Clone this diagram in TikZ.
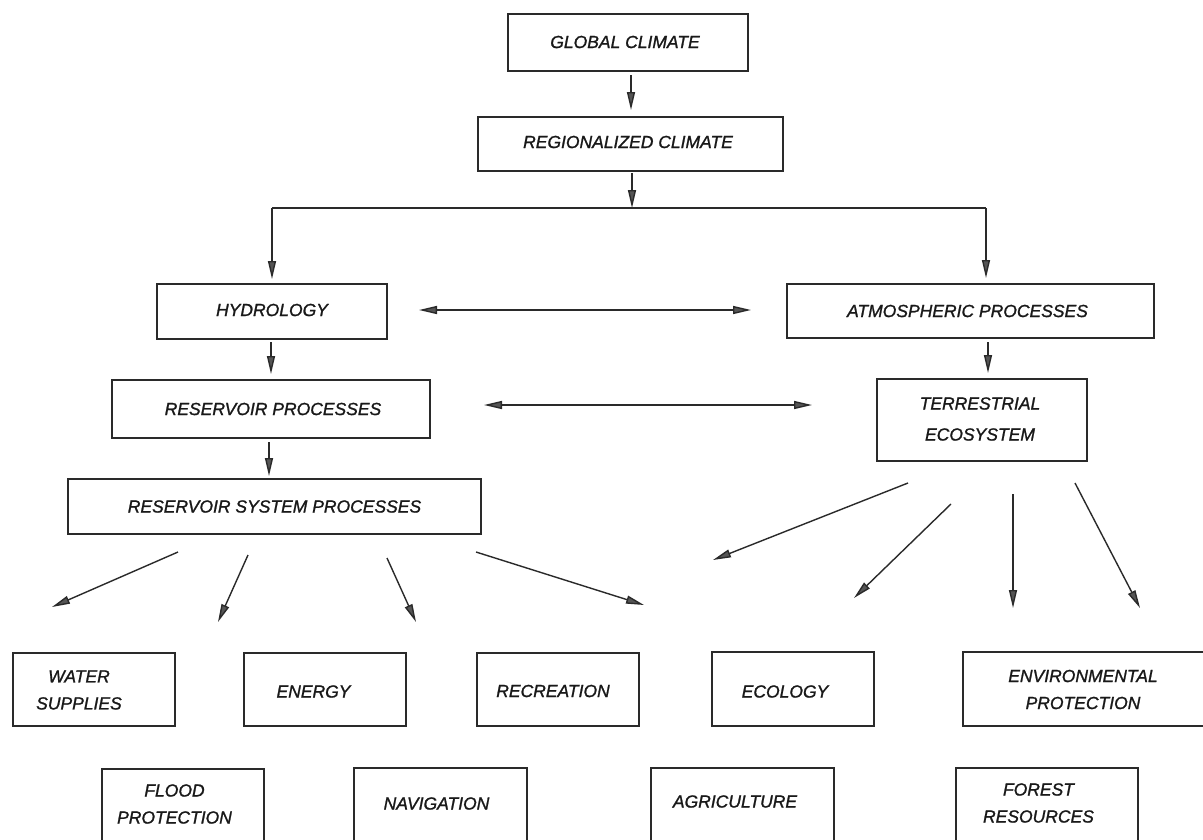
\documentclass[tikz,border=0pt]{standalone}
\usepackage{fontspec}
\setmainfont{Liberation Sans}
\newfontfamily\diagfont[FakeBold=1.2]{Liberation Sans}
\usetikzlibrary{arrows.meta}
\definecolor{ink}{HTML}{2A2A2A}
\definecolor{headfill}{HTML}{555555}
\tikzset{
  boxnode/.style={draw=ink, line width=1.7pt, rectangle, inner sep=0pt, anchor=north west},
  txt/.style={inner sep=0pt, align=center, text=black!90, font=\diagfont\fontsize{17.5}{27}\selectfont\itshape},
  arr/.style={draw=ink, line width=1.4pt, -{Triangle[length=18pt,width=8pt,color=ink,fill=headfill]}},
  darr/.style={draw=ink, line width=1.4pt, {Triangle[length=18pt,width=8pt,color=ink,fill=headfill]}-{Triangle[length=18pt,width=8pt,color=ink,fill=headfill]}},
  plain/.style={draw=ink, line width=1.4pt}
}
\newcommand{\mybox}[5]{\node[boxnode, minimum width={(#4-#2)*1pt}, minimum height={(#5-#3)*1pt}] (#1) at (#2,#3) {};}
\begin{document}
\begin{tikzpicture}[x=1pt,y=-1pt]
\useasboundingbox (0,0) rectangle (1203,839);
\fill[white] (0,0) rectangle (1203,839);
\begin{scope}
\clip (0,0) rectangle (1203,839);
% boxes
\mybox{glob}{507}{13}{747}{70}
\mybox{reg}{477}{116}{782}{170}
\mybox{hyd}{156}{283}{386}{338}
\mybox{atm}{786}{283}{1153}{337}
\mybox{res}{111}{379}{429}{437}
\mybox{ter}{876}{378}{1086}{460}
\mybox{rsp}{67}{478}{480}{533}
\mybox{water}{12}{652}{174}{725}
\mybox{energy}{243}{652}{405}{725}
\mybox{recre}{476}{652}{638}{725}
\mybox{ecol}{711}{651}{873}{725}
\mybox{env}{962}{651}{1212}{725}
\mybox{flood}{101}{768}{263}{852}
\mybox{navig}{353}{767}{526}{852}
\mybox{agri}{650}{767}{833}{852}
\mybox{forest}{955}{767}{1137}{852}
\end{scope}
% texts
\node[txt] (globT) at (625,42) {GLOBAL CLIMATE};
\node[txt] (regT) at (628,142) {REGIONALIZED CLIMATE};
\node[txt] (hydT) at (272,310) {HYDROLOGY};
\node[txt] (atmT) at (967.5,311) {ATMOSPHERIC PROCESSES};
\node[txt] (resT) at (273,409) {RESERVOIR PROCESSES};
\node[txt] (terT) at (980,419) {TERRESTRIAL\\[4pt]ECOSYSTEM};
\node[txt] (rspT) at (274.5,506.5) {RESERVOIR SYSTEM PROCESSES};
\node[txt] (waterT) at (79,690) {WATER\\SUPPLIES};
\node[txt] (energyT) at (313.5,691.5) {ENERGY};
\node[txt] (recreT) at (553,691) {RECREATION};
\node[txt] (ecolT) at (785,691.5) {ECOLOGY};
\node[txt] (envT) at (1083,689.5) {ENVIRONMENTAL\\PROTECTION};
\node[txt] (floodT) at (174.5,804) {FLOOD\\PROTECTION};
\node[txt] (navigT) at (436.5,803.5) {NAVIGATION};
\node[txt] (agriT) at (735,801.5) {AGRICULTURE};
\node[txt] (forestT) at (1038.5,803) {FOREST\\RESOURCES};
% connector end points
\coordinate (g1) at (631,75); \coordinate (g2) at (631,110);
\coordinate (r1) at (632,173); \coordinate (jM) at (632,208);
\coordinate (jL) at (272,208); \coordinate (jR) at (986,208);
\coordinate (hydIn) at (272,279); \coordinate (atmIn) at (986,278);
\coordinate (d1a) at (419,310); \coordinate (d1b) at (751,310);
\coordinate (h1) at (271,342); \coordinate (h2) at (271,374);
\coordinate (d2a) at (484,405); \coordinate (d2b) at (812,405);
\coordinate (a1) at (988,342); \coordinate (a2) at (988,373);
\coordinate (s1) at (269,442); \coordinate (s2) at (269,476);
\coordinate (p1s) at (178,552); \coordinate (p1e) at (52,607);
\coordinate (p2s) at (248,555); \coordinate (p2e) at (218,622);
\coordinate (p3s) at (387,558); \coordinate (p3e) at (416,622);
\coordinate (p4s) at (476,552); \coordinate (p4e) at (644,605);
\coordinate (t1s) at (908,483); \coordinate (t1e) at (713,560);
\coordinate (t2s) at (951,504); \coordinate (t2e) at (854,598);
\coordinate (t3s) at (1013,494); \coordinate (t3e) at (1013,608);
\coordinate (t4s) at (1075,483); \coordinate (t4e) at (1140,608);
% connectors
\draw[arr] (g1) -- (g2);
\draw[arr] (r1) -- (jM);
\draw[plain] (jL) -- (jR);
\draw[arr] (jL) -- (hydIn);
\draw[arr] (jR) -- (atmIn);
\draw[darr] (d1a) -- (d1b);
\draw[arr] (h1) -- (h2);
\draw[darr] (d2a) -- (d2b);
\draw[arr] (a1) -- (a2);
\draw[arr] (s1) -- (s2);
\draw[arr] (p1s) -- (p1e);
\draw[arr] (p2s) -- (p2e);
\draw[arr] (p3s) -- (p3e);
\draw[arr] (p4s) -- (p4e);
\draw[arr] (t1s) -- (t1e);
\draw[arr] (t2s) -- (t2e);
\draw[arr] (t3s) -- (t3e);
\draw[arr] (t4s) -- (t4e);
\end{tikzpicture}
\end{document}
